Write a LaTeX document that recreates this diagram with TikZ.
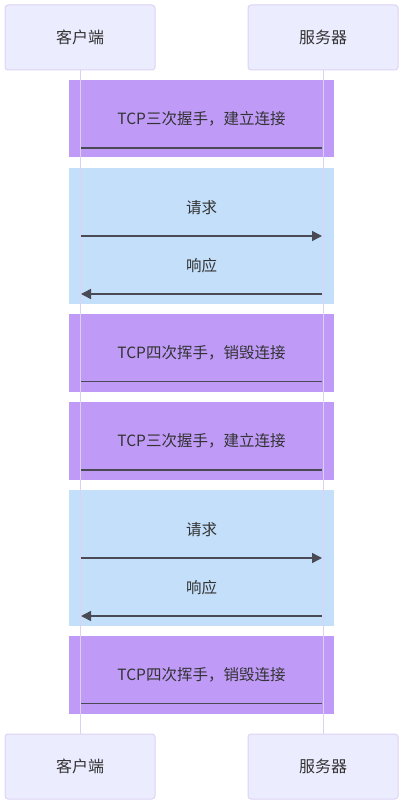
\documentclass[tikz,border=0pt]{standalone}
\usepackage{fontspec}
\setmainfont{Noto Sans CJK SC}
\usetikzlibrary{arrows.meta}
\definecolor{actfill}{HTML}{ECECFF}
\definecolor{actdraw}{HTML}{DCD3F5}
\definecolor{lifeln}{HTML}{DCD0F3}
\definecolor{purp}{HTML}{BF9BF7}
\definecolor{bluebg}{HTML}{C4DFFA}
\definecolor{txt}{HTML}{333333}
\definecolor{msgln}{HTML}{4A4A55}
\tikzset{
  actor/.style={draw=actdraw, fill=actfill, line width=1pt, rounded corners=3pt,
    minimum width=150pt, minimum height=65pt, inner sep=0pt, text=txt, font=\fontsize{16pt}{19pt}\selectfont},
  lbl/.style={text=txt, inner sep=0pt, font=\fontsize{15.5pt}{18pt}\selectfont},
  msg/.style={draw=msgln, line width=1.5pt},
  msgarr/.style={msg, -{Triangle[length=10pt,width=10pt]}},
  life/.style={draw=lifeln, line width=1pt},
}
\begin{document}
\begin{tikzpicture}[x=1pt,y=-1pt]
\useasboundingbox (0,0) rectangle (403,805);
% background rects
\fill[purp] (69,80) rectangle (334,157.5);
\fill[bluebg] (69,168) rectangle (334,304);
\fill[purp] (69,314) rectangle (334,391.5);
\fill[purp] (69,402) rectangle (334,479.5);
\fill[bluebg] (69,490) rectangle (334,626);
\fill[purp] (69,636) rectangle (334,713.5);
% actors
\node[actor] (ct) at (80,37.5) {客户端};
\node[actor] (st) at (323,37.5) {服务器};
\node[actor] (cb) at (80,766.5) {客户端};
\node[actor] (sb) at (323,766.5) {服务器};
% lifelines
\draw[life] (ct.south) -- (cb.north);
\draw[life] (st.south) -- (sb.north);
% coordinates on lifelines
\foreach \n/\y in {a/148,b/236,c/294,d/381.5,e/470,f/558,g/616,h/703.5}{
  \coordinate (c\n) at (81,\y);
  \coordinate (s\n) at (322,\y);
}
% messages
\node[lbl] (t1) at (201.5,119) {TCP三次握手，建立连接};
\draw[msg] (ca) -- (sa);
\node[lbl] (t2) at (201.5,207.5) {请求};
\draw[msgarr] (cb) -- (sb);
\node[lbl] (t3) at (201.5,265.5) {响应};
\draw[msgarr] (sc) -- (cc);
\node[lbl] (t4) at (201.5,353) {TCP四次挥手，销毁连接};
\draw[msg] (cd) -- (sd);
\node[lbl] (t5) at (201.5,441) {TCP三次握手，建立连接};
\draw[msg] (ce) -- (se);
\node[lbl] (t6) at (201.5,529.5) {请求};
\draw[msgarr] (cf) -- (sf);
\node[lbl] (t7) at (201.5,587.5) {响应};
\draw[msgarr] (sg) -- (cg);
\node[lbl] (t8) at (201.5,675) {TCP四次挥手，销毁连接};
\draw[msg] (ch) -- (sh);
\end{tikzpicture}
\end{document}
